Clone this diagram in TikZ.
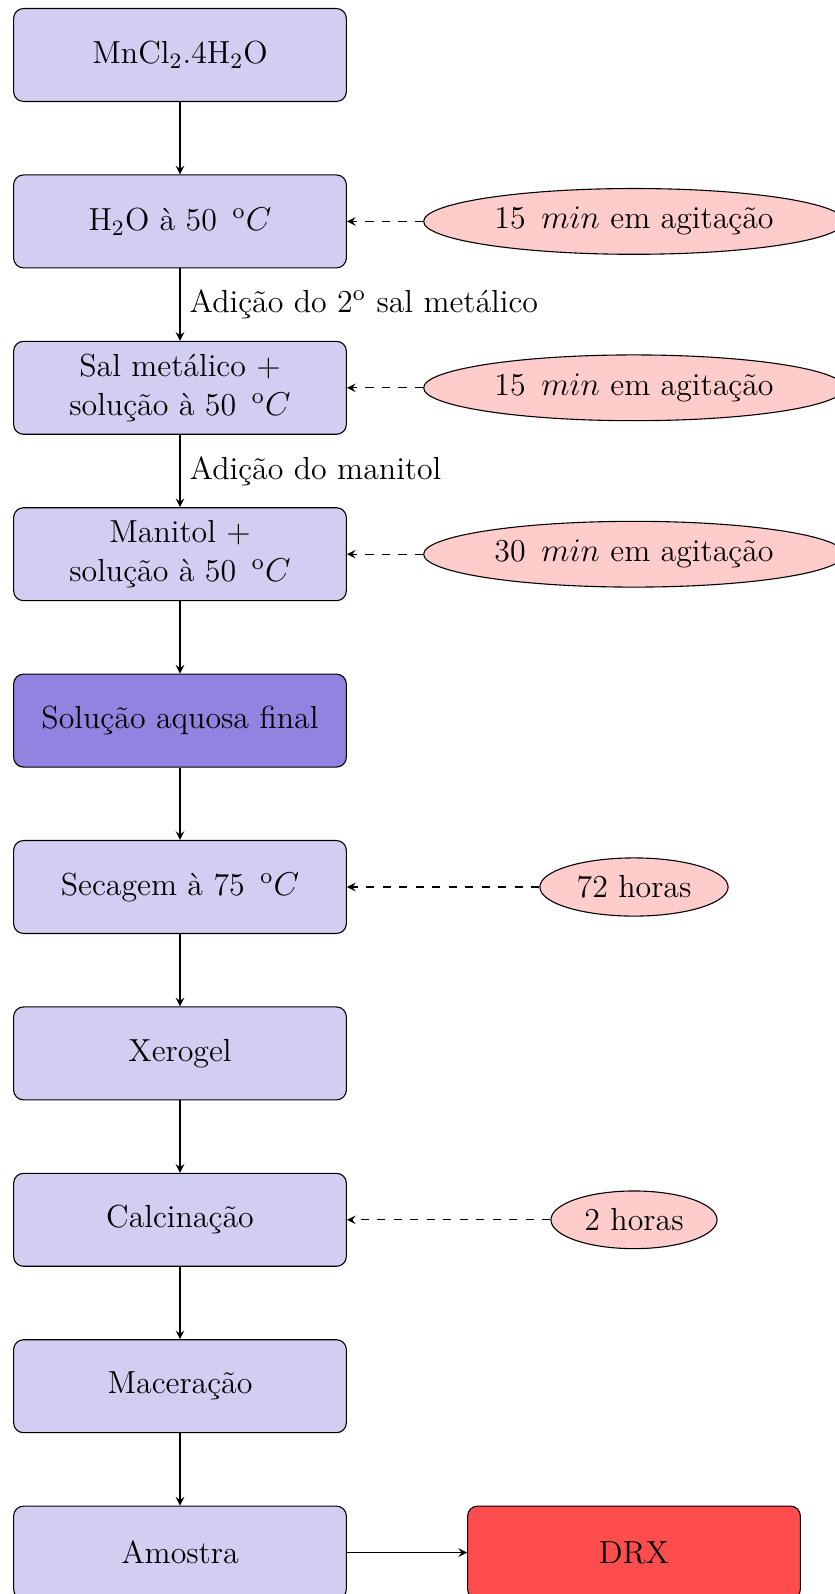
\documentclass[tikz,border=0pt]{standalone}
\usetikzlibrary{arrows,shapes.geometric}
\definecolor{boxc}{RGB}{210,206,242}
\definecolor{finalc}{RGB}{147,130,224}
\definecolor{ellc}{RGB}{255,204,204}
\definecolor{drxc}{RGB}{255,77,77}
\newcommand{\mydeg}{\,\textsuperscript{o}$C$}
\tikzset{
  stepbox/.style={rectangle, draw, rounded corners=3.6pt, fill=boxc,
    minimum width=121pt, minimum height=33.8pt, align=center,
    font=\fontsize{11.6}{14.2}\selectfont},
  timeell/.style={ellipse, draw, fill=ellc, font=\fontsize{11.6}{14.2}\selectfont},
  flow/.style={-stealth},
  side/.style={dashed,-stealth},
  lab/.style={right, font=\fontsize{11.6}{14.2}\selectfont}
}
\begin{document}
\begin{tikzpicture}[x=0.3636pt,y=-0.3636pt]
\useasboundingbox (0,0) rectangle (835,1594);
\node[stepbox] (b1) at (180,55) {MnCl$_2$.4H$_2$O};
\node[stepbox] (b2) at (180,221.4) {H$_2$O à 50 \mydeg};
\node[stepbox] (b3) at (180,387.8) {Sal metálico +\\ solução à 50 \mydeg};
\node[stepbox] (b4) at (180,554.2) {Manitol +\\ solução à 50 \mydeg};
\node[stepbox, fill=finalc] (b5) at (180,720.6) {Solução aquosa final};
\node[stepbox] (b6) at (180,887) {Secagem à 75 \mydeg};
\node[stepbox] (b7) at (180,1053.4) {Xerogel};
\node[stepbox] (b8) at (180,1219.8) {Calcinação};
\node[stepbox] (b9) at (180,1386.2) {Maceração};
\node[stepbox] (b10) at (180,1552.6) {Amostra};
\node[stepbox, fill=drxc] (drx) at (634,1552.6) {DRX};

\node[timeell] (e2) at (634,221.4) {15 \,$min$ em agitação};
\node[timeell] (e3) at (634,387.8) {15 \,$min$ em agitação};
\node[timeell] (e4) at (634,554.2) {30 \,$min$ em agitação};
\node[timeell] (e6) at (634,887) {72 horas};
\node[timeell] (e8) at (634,1219.8) {2 horas};

\draw[flow] (b1) -- (b2);
\draw[flow] (b2) -- node[lab] {Adição do 2\textsuperscript{o} sal metálico} (b3);
\draw[flow] (b3) -- node[lab] {Adição do manitol} (b4);
\draw[flow] (b4) -- (b5);
\draw[flow] (b5) -- (b6);
\draw[flow] (b6) -- (b7);
\draw[flow] (b7) -- (b8);
\draw[flow] (b8) -- (b9);
\draw[flow] (b9) -- (b10);
\draw[flow] (b10) -- (drx);

\draw[side] (e2) -- (b2);
\draw[side] (e3) -- (b3);
\draw[side] (e4) -- (b4);
\draw[side] (e6) -- (b6);
\draw[side] (e8) -- (b8);
\end{tikzpicture}
\end{document}
